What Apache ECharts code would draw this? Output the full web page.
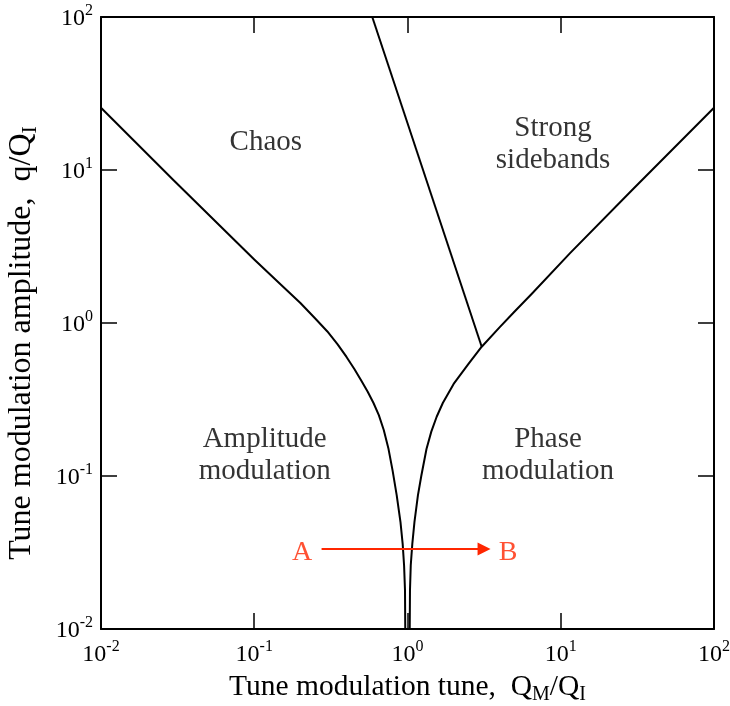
<!DOCTYPE html>
<html>
<head>
<meta charset="utf-8">
<script src="https://cdn.jsdelivr.net/npm/echarts@6/dist/echarts.min.js"></script>
<style>html,body{margin:0;padding:0;background:#fff;}#c{width:730px;height:706px;}</style>
</head>
<body>
<div id="c"></div>
<script>
// ---- data ----
var leftQ  = [0.01, 0.03, 0.1, 0.15, 0.2, 0.25, 0.3, 0.35, 0.4, 0.45, 0.5, 0.55, 0.6, 0.65, 0.7, 0.75, 0.8, 0.85, 0.9, 0.93, 0.95, 0.963, 0.967];
var leftq  = [25.5, 8.5, 2.6, 1.77, 1.35, 1.07, 0.88, 0.725, 0.60, 0.50, 0.42, 0.355, 0.30, 0.25, 0.20, 0.152, 0.108, 0.075, 0.050, 0.036, 0.026, 0.018, 0.01];
var rightQ = [1.034, 1.038, 1.05, 1.075, 1.11, 1.17, 1.23, 1.33, 1.43, 1.55, 1.7, 2.0, 2.5, 3.05, 4.0, 5.0, 6.5, 11.5, 30, 100];
var rightq = [0.01, 0.018, 0.026, 0.036, 0.05, 0.075, 0.100, 0.150, 0.195, 0.244, 0.30, 0.40, 0.54, 0.70, 0.94, 1.19, 1.56, 2.86, 7.6, 25.5];
var sideQ  = [0.589, 3.05];
var sideq  = [100, 0.70];
var regionText = ['Chaos', 'Strong\nsidebands', 'Amplitude\nmodulation', 'Phase\nmodulation'];
var regionQ = [0.119, 8.9, 0.117, 8.26];
var regionq = [15.2, 14.8, 0.136, 0.136];
var abText = ['A', 'B'];
var abQ = [0.205, 4.53];
var abq = [0.0315, 0.0315];
var arrowQ = [0.275, 3.16];
var arrowq = 0.0333;

var FONT = "'Liberation Serif', 'Times New Roman', serif";
var RED = '#ff2600';

function zip(a, b) { return a.map(function (v, i) { return [v, b[i]]; }); }

var tickRich = {
  b: { fontSize: 24, fontFamily: FONT, color: '#000', lineHeight: 28, verticalAlign: 'bottom' },
  s: { fontSize: 16, fontFamily: FONT, color: '#000', lineHeight: 16, verticalAlign: 'top' }
};
function tickFmt(v) {
  var e = Math.round(Math.log10(v));
  return '{b|10}{s|' + e + '}';
}
function titleRich(fs) {
  return {
    n: { fontSize: fs, fontFamily: FONT, color: '#000', lineHeight: fs + 6, verticalAlign: 'middle' },
    sub: { fontSize: Math.round(fs * 0.68), fontFamily: FONT, color: '#000', lineHeight: 18, verticalAlign: 'bottom' }
  };
}

var axisCommon = {
  type: 'log', logBase: 10, min: 0.01, max: 100, splitNumber: 4,
  axisLine: { show: true, lineStyle: { color: '#000', width: 2 } },
  axisTick: { show: true, inside: true, length: 16, lineStyle: { color: '#000', width: 1.5 } },
  minorTick: { show: false },
  splitLine: { show: false }
};

var chart = echarts.init(document.getElementById('c'), null, { renderer: 'canvas' });
chart.setOption({
  animation: false,
  backgroundColor: '#fff',
  grid: { left: 101, right: 16, top: 17, bottom: 77, containLabel: false, outerBoundsMode: 'none' },
  xAxis: [
    Object.assign({}, axisCommon, {
      position: 'bottom',
      axisLabel: { show: true, formatter: tickFmt, rich: tickRich, margin: 10 },
      name: '{n|Tune modulation tune,  Q}{sub|M}{n|/Q}{sub|I}',
      nameLocation: 'middle', nameGap: 40,
      nameTextStyle: { rich: titleRich(29.5) }
    }),
    Object.assign({}, axisCommon, { position: 'top', axisLabel: { show: false } })
  ],
  yAxis: [
    Object.assign({}, axisCommon, {
      position: 'left',
      axisLabel: { show: true, formatter: tickFmt, rich: tickRich, margin: 8 },
      name: '{n|Tune modulation amplitude,  q/Q}{sub|I}',
      nameLocation: 'middle', nameGap: 60,
      nameTextStyle: { rich: titleRich(32), padding: [0, 40, 0, 0] }
    }),
    Object.assign({}, axisCommon, { position: 'right', axisLabel: { show: false } })
  ],
  series: [
    { type: 'line', data: zip(leftQ, leftq), showSymbol: false, symbol: 'none',
      lineStyle: { color: '#000', width: 2, join: 'round' }, clip: true },
    { type: 'line', data: zip(rightQ, rightq), showSymbol: false, symbol: 'none',
      lineStyle: { color: '#000', width: 2, join: 'round' }, clip: true },
    { type: 'line', data: zip(sideQ, sideq), showSymbol: false, symbol: 'none',
      lineStyle: { color: '#000', width: 2 }, clip: true },
    { type: 'scatter', symbolSize: 0,
      data: regionQ.map(function (q, i) { return { value: [q, regionq[i]], name: regionText[i] }; }),
      label: { show: true, position: 'inside', formatter: '{b}', fontSize: 29, lineHeight: 32,
        fontFamily: FONT, color: '#000', textBorderWidth: 0, align: 'center', verticalAlign: 'middle' } },
    { type: 'scatter', symbolSize: 0,
      data: abQ.map(function (q, i) { return { value: [q, abq[i]], name: abText[i] }; }),
      label: { show: true, position: 'inside', formatter: '{b}', fontSize: 28,
        fontFamily: FONT, color: RED, textBorderWidth: 0, align: 'center', verticalAlign: 'middle' },
      markLine: {
        silent: true, animation: false,
        symbol: ['none', 'triangle'], symbolSize: [13, 13],
        label: { show: false },
        lineStyle: { color: RED, width: 2, type: 'solid' },
        data: [[{ coord: [arrowQ[0], arrowq] }, { coord: [arrowQ[1], arrowq] }]]
      } }
  ]
});
</script>
</body>
</html>
